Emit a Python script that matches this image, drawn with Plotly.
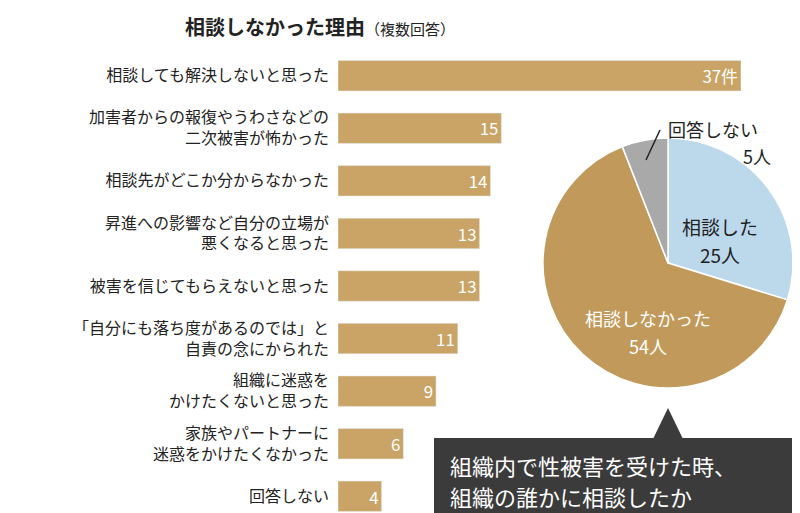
import plotly.graph_objects as go

reasons = ["相談しても解決しないと思った", "加害者からの報復やうわさなどの<br>二次被害が怖かった",
           "相談先がどこか分からなかった", "昇進への影響など自分の立場が<br>悪くなると思った",
           "被害を信じてもらえないと思った", "「自分にも落ち度があるのでは」と<br>自責の念にかられた",
           "組織に迷惑を<br>かけたくないと思った", "家族やパートナーに<br>迷惑をかけたくなかった", "回答しない"]
counts = [37, 15, 14, 13, 13, 11, 9, 6, 4]
count_text = ["37件", "15", "14", "13", "13", "11", "9", "6", "4"]
pie_labels = ["相談した", "相談しなかった", "回答しない"]
pie_values = [25, 54, 5]

W, H = 800, 513
def px(x): return x / W
def py(y): return 1 - y / H

FONT = "Noto Sans CJK JP"
fig = go.Figure()
fig.add_trace(go.Bar(y=reasons, x=counts, orientation="h", marker_color="#c9a466",
                     text=count_text, textposition="inside", insidetextanchor="end", textangle=0,
                     textfont=dict(color="white", size=20, family=FONT), width=0.58, showlegend=False))
fig.add_trace(go.Pie(labels=pie_labels, values=pie_values, sort=False, direction="clockwise",
                     rotation=0, marker=dict(colors=["#bcd9ec", "#c19a5b", "#a9a9a9"],
                     line=dict(color="white", width=1.5)), textinfo="none", hoverinfo="label+value",
                     domain=dict(x=[px(535), px(785)], y=[py(380), py(130)]), showlegend=False))

def lab(x, y, t, size=18, color="#222", anchor="center"):
    return dict(x=px(x), y=py(y), xref="paper", yref="paper", showarrow=False, xanchor=anchor,
                yanchor="middle", text=t, font=dict(size=size, color=color, family=FONT))

fig.update_layout(
    width=W, height=H, margin=dict(l=0, r=0, t=0, b=0), plot_bgcolor="white", paper_bgcolor="white",
    font=dict(family=FONT, color="#222"),
    xaxis=dict(domain=[px(330), px(733)], range=[0, 37], visible=False),
    yaxis=dict(domain=[py(512), py(44)], range=[8.45, -0.45], type="category",
               tickfont=dict(size=16, color="#222"), ticks="", showline=False, showgrid=False,
               ticklabelstandoff=8),
    shapes=[
        dict(type="rect", xref="paper", yref="paper", x0=px(426), x1=px(800), y0=0, y1=py(430),
             fillcolor="#3b3b3b", line_width=0),
        dict(type="path", xref="paper", yref="paper",
             path=f"M {px(645)} {py(431)} L {px(660)} {py(400)} L {px(675)} {py(431)} Z",
             fillcolor="#3b3b3b", line_width=0),
        dict(type="line", xref="paper", yref="paper", x0=px(638), y0=py(152), x1=px(652), y1=py(122),
             line=dict(color="#222", width=1.5)),
    ],
    annotations=[
        lab(175, 19, "<b>相談しなかった理由</b><span style='font-size:15px'>（複数回答）</span>", 20, anchor="left"),
        lab(712, 218, "相談した", 19),
        lab(712, 246, "25人", 19),
        lab(640, 310, "相談しなかった", 18, "white"),
        lab(640, 338, "54人", 18, "white"),
        lab(658, 121, "回答しない", 18, anchor="left"),
        lab(765, 148, "5人", 18, anchor="right"),
        lab(440, 457, "組織内で性被害を受けた時、", 22, "white", "left"),
        lab(440, 488, "組織の誰かに相談したか", 22, "white", "left"),
    ],
)
fig.write_html("out.html")
